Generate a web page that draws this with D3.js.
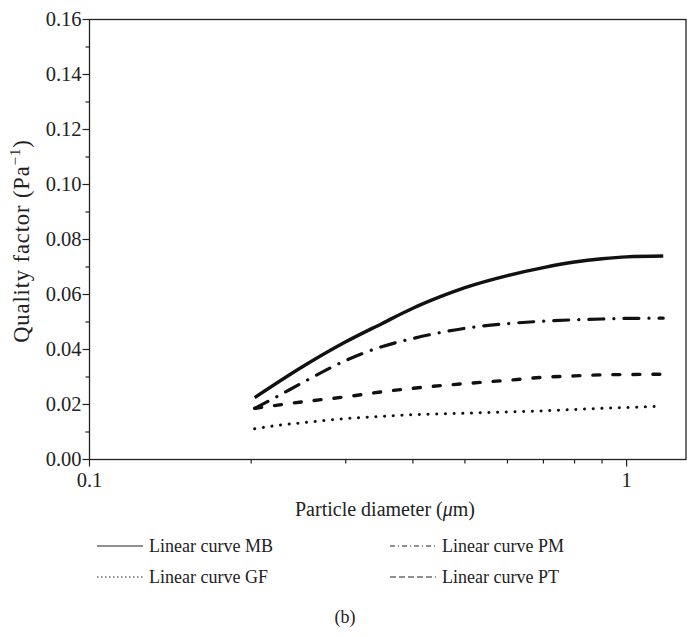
<!DOCTYPE html>
<html>
<head>
<meta charset="utf-8">
<script src="https://cdn.jsdelivr.net/npm/d3@7"></script>
<style>
  body { margin: 0; background: #fff; }
  svg text { font-family: "Liberation Serif", "DejaVu Serif", serif; fill: #222; }
</style>
</head>
<body>
<div id="container"></div>
<script>
// particle diameter (um) and quality factor (1/Pa)
const xMB = [0.203, 0.25, 0.3, 0.35, 0.4, 0.45, 0.5, 0.6, 0.7, 0.8, 0.9, 1.0, 1.17]
const yMB = [0.0225, 0.0339, 0.0428, 0.0494, 0.055, 0.0592, 0.0625, 0.0669, 0.0698, 0.0718, 0.073, 0.0737, 0.074]
const xPM = [0.203, 0.225, 0.25, 0.3, 0.35, 0.4, 0.5, 0.6, 0.7, 0.8, 0.9, 1.0, 1.17]
const yPM = [0.0186, 0.0232, 0.0281, 0.036, 0.041, 0.044, 0.0477, 0.0494, 0.0503, 0.0508, 0.0511, 0.0513, 0.0514]
const xGF = [0.203, 0.23, 0.25, 0.3, 0.35, 0.4, 0.5, 0.6, 0.7, 0.8, 0.9, 1.0, 1.14]
const yGF = [0.0112, 0.0127, 0.0134, 0.0149, 0.0157, 0.0163, 0.0168, 0.0173, 0.0177, 0.0182, 0.0186, 0.0189, 0.0193]
const xPT = [0.203, 0.25, 0.3, 0.35, 0.4, 0.5, 0.6, 0.7, 0.8, 0.9, 1.0, 1.17]
const yPT = [0.0186, 0.021, 0.0228, 0.0246, 0.0259, 0.0276, 0.0288, 0.0299, 0.0304, 0.0308, 0.0309, 0.031]

const yTicks = [0, 0.02, 0.04, 0.06, 0.08, 0.10, 0.12, 0.14, 0.16]
const yMinor = [0.01, 0.03, 0.05, 0.07, 0.09, 0.11, 0.13, 0.15]
const xTicks = [0.1, 1]
const xMinor = [0.2, 0.3, 0.4, 0.5, 0.6, 0.7, 0.8, 0.9]

const series = [
  { name: 'Linear curve MB', xs: xMB, ys: yMB, width: 3.4, dash: null },
  { name: 'Linear curve PM', xs: xPM, ys: yPM, width: 3.2, dash: '15,10,0.1,10' },
  { name: 'Linear curve GF', xs: xGF, ys: yGF, width: 3, dash: '0.1,8.6' },
  { name: 'Linear curve PT', xs: xPT, ys: yPT, width: 3.4, dash: '7,13' }
]

const width = 689, height = 637
const plotLeft = 89.5, plotRight = 686, plotTop = 19.5, plotBottom = 459.5

const svg = d3.select('#container').append('svg')
  .attr('width', width).attr('height', height)

const x = d3.scaleLog().domain([0.1, 1.29]).range([plotLeft, plotRight])
const y = d3.scaleLinear().domain([0, 0.16]).range([plotBottom, plotTop])

// frame
svg.append('rect')
  .attr('x', plotLeft).attr('y', plotTop)
  .attr('width', plotRight - plotLeft).attr('height', plotBottom - plotTop)
  .attr('fill', 'none').attr('stroke', '#222').attr('stroke-width', 1.3)

// y axis ticks
svg.append('g').selectAll('line').data(yTicks).enter().append('line')
  .attr('x1', plotLeft - 7).attr('x2', plotLeft)
  .attr('y1', d => y(d)).attr('y2', d => y(d))
  .attr('stroke', '#222').attr('stroke-width', 1.2)
svg.append('g').selectAll('line').data(yMinor).enter().append('line')
  .attr('x1', plotLeft - 4).attr('x2', plotLeft)
  .attr('y1', d => y(d)).attr('y2', d => y(d))
  .attr('stroke', '#222').attr('stroke-width', 1.2)
svg.append('g').selectAll('text').data(yTicks).enter().append('text')
  .attr('x', plotLeft - 8).attr('y', d => y(d) + 6.5)
  .attr('text-anchor', 'end').attr('font-size', 20.5)
  .text(d => d.toFixed(2))

// x axis ticks
svg.append('g').selectAll('line').data(xTicks).enter().append('line')
  .attr('x1', d => x(d)).attr('x2', d => x(d))
  .attr('y1', plotBottom).attr('y2', plotBottom + 7)
  .attr('stroke', '#222').attr('stroke-width', 1.2)
svg.append('g').selectAll('line').data(xMinor).enter().append('line')
  .attr('x1', d => x(d)).attr('x2', d => x(d))
  .attr('y1', plotBottom).attr('y2', plotBottom + 4)
  .attr('stroke', '#222').attr('stroke-width', 1.2)
svg.append('g').selectAll('text').data(xTicks).enter().append('text')
  .attr('x', d => x(d)).attr('y', 487)
  .attr('text-anchor', 'middle').attr('font-size', 20.5)
  .text(d => d)

// axis titles
const xt = svg.append('text')
  .attr('x', 385).attr('y', 516)
  .attr('text-anchor', 'middle').attr('font-size', 20)
xt.append('tspan').text('Particle diameter (')
xt.append('tspan').attr('font-style', 'italic').text('\u03bc')
xt.append('tspan').text('m)')

const yt = svg.append('text')
  .attr('transform', 'translate(29,241) rotate(-90)')
  .attr('text-anchor', 'middle').attr('font-size', 22.5)
  .attr('letter-spacing', 0.9)
yt.append('tspan').text('Quality factor (Pa')
yt.append('tspan').attr('font-size', 15).attr('dy', -9).text('\u22121')
yt.append('tspan').attr('dy', 9).text(')')

// curves
const line = d3.line()
  .x(d => x(d[0])).y(d => y(d[1]))
  .curve(d3.curveMonotoneX)

series.forEach(s => {
  svg.append('path')
    .datum(d3.zip(s.xs, s.ys))
    .attr('d', line)
    .attr('fill', 'none')
    .attr('stroke', '#111')
    .attr('stroke-width', s.width)
    .attr('stroke-linecap', s.dash ? 'round' : 'butt')
    .attr('stroke-dasharray', s.dash)
})

// legend
const legendPos = [[97, 546], [390, 546], [97, 577], [390, 577]]
const legendDash = [null, '5,3,1,3', '1.5,2.5', '6,3']
series.forEach((s, i) => {
  const [lx, ly] = legendPos[i]
  svg.append('line')
    .attr('x1', lx).attr('x2', lx + 46)
    .attr('y1', ly).attr('y2', ly)
    .attr('stroke', '#222').attr('stroke-width', 1.1)
    .attr('stroke-dasharray', legendDash[i])
  svg.append('text')
    .attr('x', lx + 52).attr('y', ly + 6)
    .attr('font-size', 18)
    .text(s.name)
})

svg.append('text')
  .attr('x', 345).attr('y', 623)
  .attr('text-anchor', 'middle').attr('font-size', 18)
  .text('(b)')
</script>
</body>
</html>
